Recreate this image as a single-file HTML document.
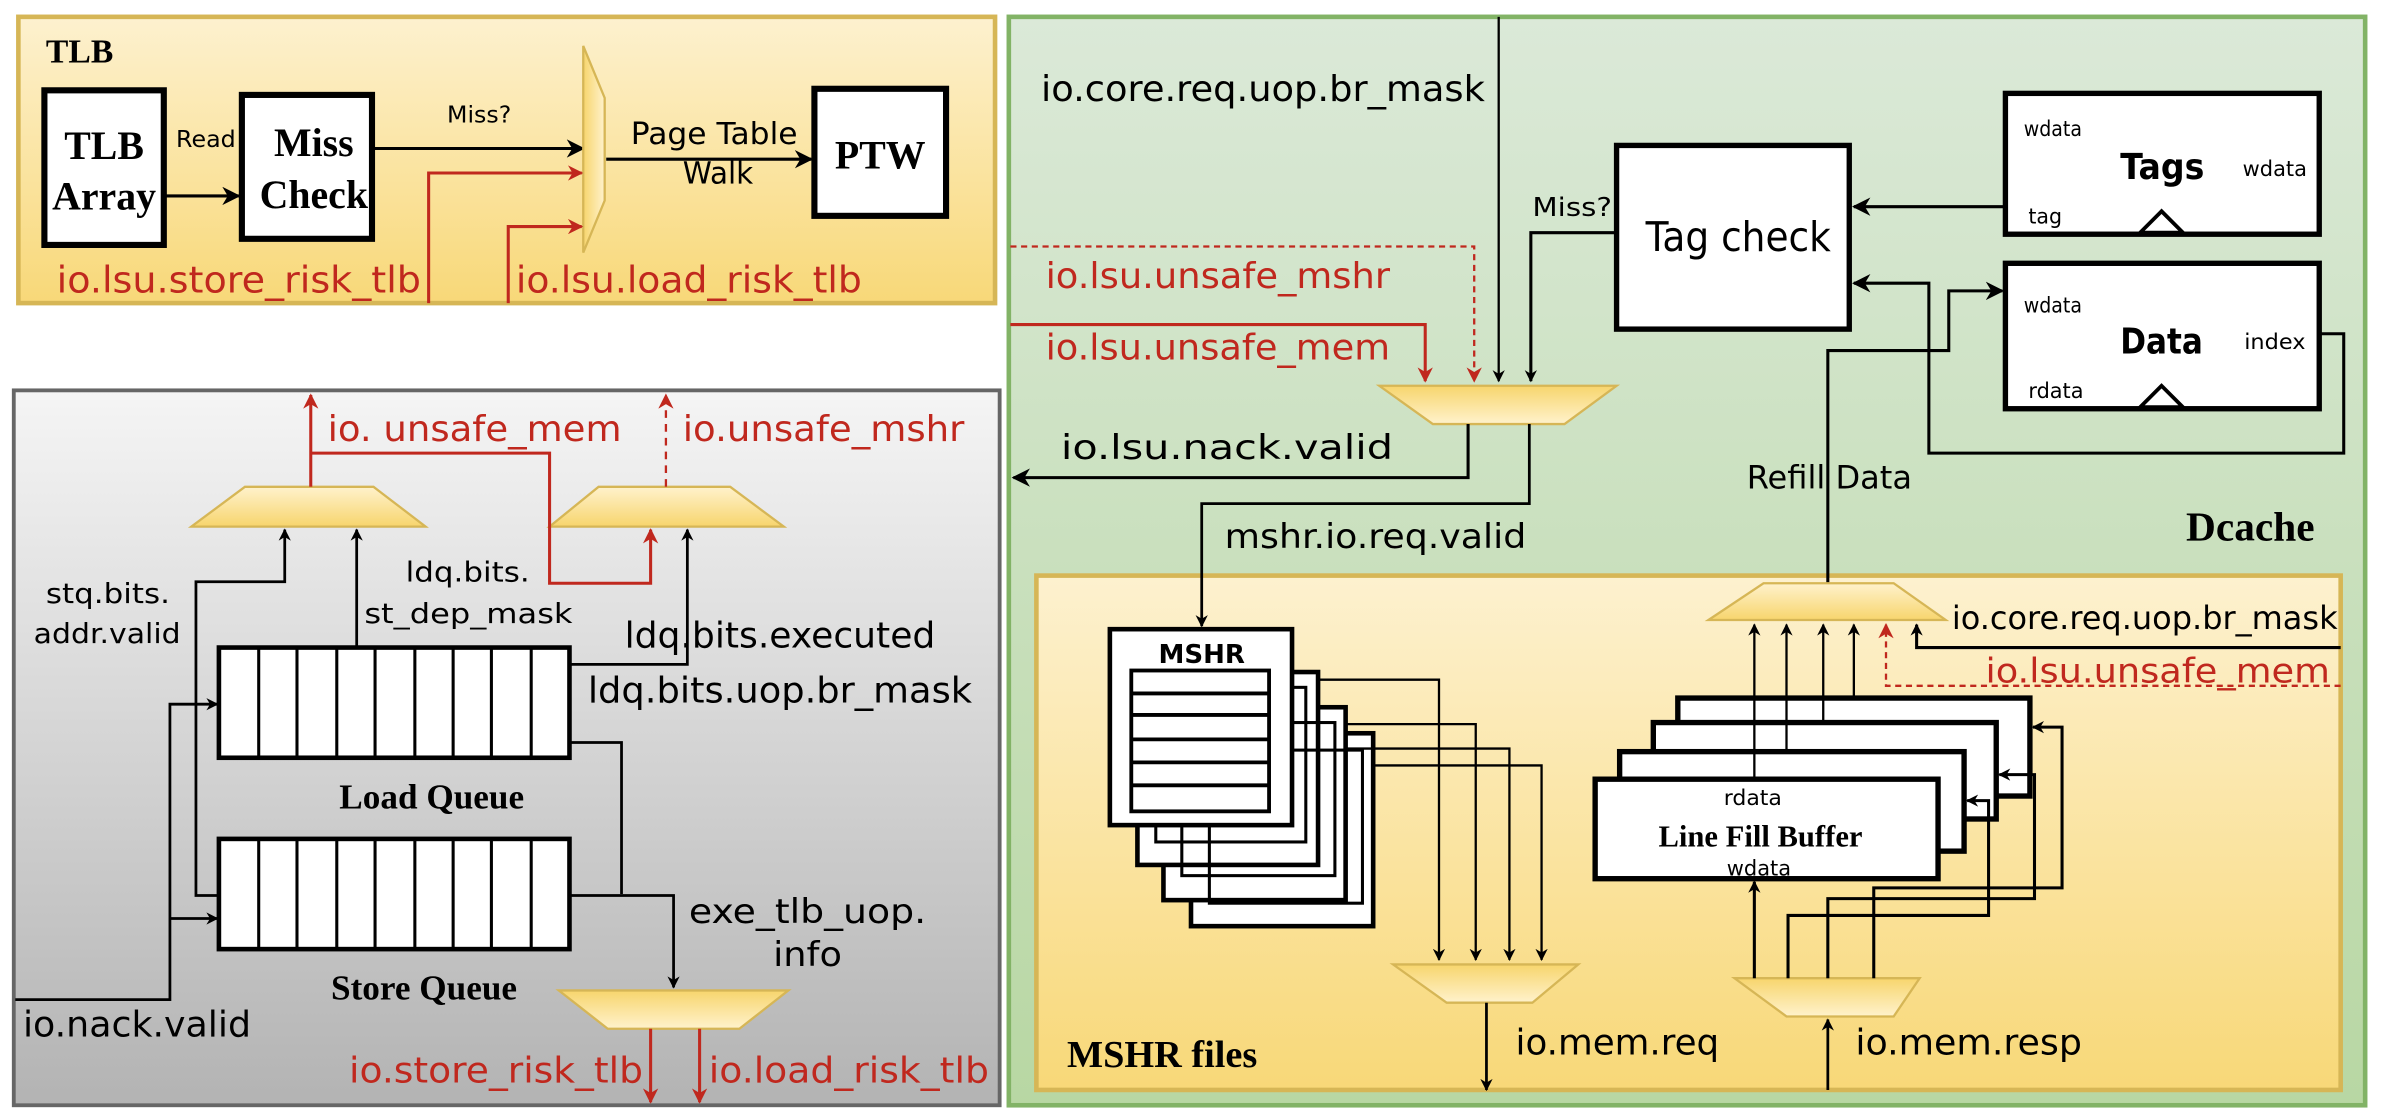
<!DOCTYPE html>
<html><head><meta charset="utf-8"><style>
html,body{margin:0;padding:0;background:#fff;}
svg{display:block}
text{font-family:"DejaVu Sans","Liberation Sans",sans-serif;}
.s{font-family:"Liberation Serif",serif;font-weight:bold;}
</style></head><body>
<svg width="2382" height="1112" viewBox="0 0 1556 726.4" preserveAspectRatio="none" xmlns="http://www.w3.org/2000/svg">
<defs>
<linearGradient id="gy" x1="0" y1="0" x2="0" y2="1"><stop offset="0" stop-color="#fdf1cf"/><stop offset="1" stop-color="#f8d878"/></linearGradient>
<linearGradient id="gg" x1="0" y1="0" x2="0" y2="1"><stop offset="0" stop-color="#dbe9d8"/><stop offset="1" stop-color="#b8d7a3"/></linearGradient>
<linearGradient id="ggr" x1="0" y1="0" x2="0" y2="1"><stop offset="0" stop-color="#f5f5f5"/><stop offset="1" stop-color="#b3b3b3"/></linearGradient>
<linearGradient id="mu" x1="0" y1="0" x2="0" y2="1"><stop offset="0" stop-color="#fff2cc"/><stop offset="1" stop-color="#f7d56d"/></linearGradient>
<linearGradient id="md" x1="0" y1="0" x2="0" y2="1"><stop offset="0" stop-color="#f7d56d"/><stop offset="1" stop-color="#fff2cc"/></linearGradient>
<linearGradient id="mh" x1="0" y1="0" x2="1" y2="0"><stop offset="0" stop-color="#f7d56d"/><stop offset="1" stop-color="#fff2cc"/></linearGradient>
<marker id="a" viewBox="0 0 10 10" refX="9" refY="5" markerWidth="8" markerHeight="8" markerUnits="userSpaceOnUse" orient="auto"><path d="M0,0 L10,5 L0,10 L3,5 z" fill="#000"/></marker>
<marker id="ab" viewBox="0 0 10 10" refX="9" refY="5" markerWidth="12" markerHeight="12" markerUnits="userSpaceOnUse" orient="auto"><path d="M0,0 L10,5 L0,10 L3,5 z" fill="#000"/></marker>
<marker id="r" viewBox="0 0 10 10" refX="9" refY="5" markerWidth="10" markerHeight="10" markerUnits="userSpaceOnUse" orient="auto"><path d="M0,0 L10,5 L0,10 L3,5 z" fill="#c0281e"/></marker>
</defs>

<!-- TLB -->
<rect x="12" y="11" width="638" height="187" fill="url(#gy)" stroke="#d6b656" stroke-width="3"/>
<text x="30" y="41" class="s" font-size="22">TLB</text>
<rect x="29" y="59" width="78" height="101" fill="#fff" stroke="#000" stroke-width="4"/>
<text x="68" y="104" class="s" font-size="26" text-anchor="middle">TLB</text>
<text x="68" y="137" class="s" font-size="26" text-anchor="middle">Array</text>
<rect x="158" y="62" width="85" height="94" fill="#fff" stroke="#000" stroke-width="4"/>
<text x="205" y="102" class="s" font-size="26" text-anchor="middle">Miss</text>
<text x="205" y="136" class="s" font-size="26" text-anchor="middle">Check</text>
<line x1="107" y1="128" x2="156" y2="128" stroke="#000" stroke-width="2" marker-end="url(#ab)"/>
<text x="115" y="96" font-size="15" textLength="39" lengthAdjust="spacingAndGlyphs">Read</text>
<line x1="243" y1="97" x2="381" y2="97" stroke="#000" stroke-width="2" marker-end="url(#ab)"/>
<text x="292" y="80" font-size="15" textLength="42" lengthAdjust="spacingAndGlyphs">Miss?</text>
<polygon points="381,30 395,64 395,131 381,165" fill="url(#mh)" stroke="#d6b656" stroke-width="1.5"/>
<line x1="396" y1="104" x2="530" y2="104" stroke="#000" stroke-width="2" marker-end="url(#ab)"/>
<text x="412" y="94" font-size="20" textLength="109" lengthAdjust="spacingAndGlyphs">Page Table</text>
<text x="446" y="120" font-size="20" textLength="46" lengthAdjust="spacingAndGlyphs">Walk</text>
<rect x="532" y="58" width="86" height="83" fill="#fff" stroke="#000" stroke-width="4"/>
<text x="575" y="110" class="s" font-size="26" text-anchor="middle">PTW</text>
<polyline points="280,198 280,113 380,113" fill="none" stroke="#c0281e" stroke-width="2" marker-end="url(#r)"/>
<polyline points="332,198 332,148 380,148" fill="none" stroke="#c0281e" stroke-width="2" marker-end="url(#r)"/>
<text x="37" y="191" font-size="24" fill="#c0281e" textLength="238" lengthAdjust="spacingAndGlyphs">io.lsu.store_risk_tlb</text>
<text x="337" y="191" font-size="24" fill="#c0281e" textLength="226" lengthAdjust="spacingAndGlyphs">io.lsu.load_risk_tlb</text>

<!-- LSU gray -->
<rect x="9" y="255" width="644" height="467" fill="url(#ggr)" stroke="#666" stroke-width="2.5"/>
<polygon points="160,318 244,318 278,344 125,344" fill="url(#mu)" stroke="#d6b656" stroke-width="1.5"/>
<polygon points="391,318 477,318 512,344 359,344" fill="url(#mu)" stroke="#d6b656" stroke-width="1.5"/>
<line x1="203" y1="318" x2="203" y2="258" stroke="#c0281e" stroke-width="2" marker-end="url(#r)"/>
<line x1="435" y1="318" x2="435" y2="258" stroke="#c0281e" stroke-width="1.5" stroke-dasharray="5,4" marker-end="url(#r)"/>
<text x="214" y="288" font-size="23" fill="#c0281e" textLength="192" lengthAdjust="spacingAndGlyphs">io. unsafe_mem</text>
<text x="446" y="288" font-size="23" fill="#c0281e" textLength="184" lengthAdjust="spacingAndGlyphs">io.unsafe_mshr</text>
<polyline points="203,296 359,296 359,381 425,381 425,346" fill="none" stroke="#c0281e" stroke-width="2" marker-end="url(#r)"/>
<polyline points="143,585 128,585 128,380 186,380 186,346" fill="none" stroke="#000" stroke-width="1.8" marker-end="url(#a)"/>
<line x1="233" y1="423" x2="233" y2="346" stroke="#000" stroke-width="1.8" marker-end="url(#a)"/>
<polyline points="372,434 449,434 449,346" fill="none" stroke="#000" stroke-width="1.8" marker-end="url(#a)"/>
<polyline points="372,485 406,485 406,584" fill="none" stroke="#000" stroke-width="1.8"/>
<polyline points="372,585 440,585 440,645" fill="none" stroke="#000" stroke-width="1.8" marker-end="url(#a)"/>
<polyline points="10,653 111,653 111,460 142,460" fill="none" stroke="#000" stroke-width="1.8" marker-end="url(#a)"/>
<line x1="111" y1="600" x2="142" y2="600" stroke="#000" stroke-width="1.8" marker-end="url(#a)"/>
<g fill="#fff" stroke="#000" stroke-width="3">
<rect x="143" y="423" width="229" height="72"/>
<rect x="143" y="548" width="229" height="72"/>
</g>
<g stroke="#000" stroke-width="2">
<path d="M169,423v72M194,423v72M220,423v72M245,423v72M271,423v72M296,423v72M321,423v72M347,423v72"/>
<path d="M169,548v72M194,548v72M220,548v72M245,548v72M271,548v72M296,548v72M321,548v72M347,548v72"/>
</g>
<text x="282" y="528" class="s" font-size="23" text-anchor="middle">Load Queue</text>
<text x="277" y="653" class="s" font-size="23" text-anchor="middle">Store Queue</text>
<text x="30" y="394" font-size="18" textLength="81" lengthAdjust="spacingAndGlyphs">stq.bits.</text>
<text x="22" y="420" font-size="18" textLength="96" lengthAdjust="spacingAndGlyphs">addr.valid</text>
<text x="265" y="380" font-size="18" textLength="81" lengthAdjust="spacingAndGlyphs">ldq.bits.</text>
<text x="238" y="407" font-size="18" textLength="136" lengthAdjust="spacingAndGlyphs">st_dep_mask</text>
<text x="408" y="423" font-size="23" textLength="203" lengthAdjust="spacingAndGlyphs">ldq.bits.executed</text>
<text x="384" y="459" font-size="23" textLength="251" lengthAdjust="spacingAndGlyphs">ldq.bits.uop.br_mask</text>
<text x="450" y="603" font-size="22" textLength="155" lengthAdjust="spacingAndGlyphs">exe_tlb_uop.</text>
<text x="505" y="631" font-size="22" textLength="45" lengthAdjust="spacingAndGlyphs">info</text>
<text x="15" y="677" font-size="23" textLength="149" lengthAdjust="spacingAndGlyphs">io.nack.valid</text>
<polygon points="365,647 515,647 483,672 397,672" fill="url(#md)" stroke="#d6b656" stroke-width="1.5"/>
<line x1="425" y1="672" x2="425" y2="720" stroke="#c0281e" stroke-width="2" marker-end="url(#r)"/>
<line x1="457" y1="672" x2="457" y2="720" stroke="#c0281e" stroke-width="2" marker-end="url(#r)"/>
<text x="228" y="707" font-size="23" fill="#c0281e" textLength="192" lengthAdjust="spacingAndGlyphs">io.store_risk_tlb</text>
<text x="463" y="707" font-size="23" fill="#c0281e" textLength="183" lengthAdjust="spacingAndGlyphs">io.load_risk_tlb</text>

<!-- Dcache -->
<rect x="659" y="11" width="886" height="711" fill="url(#gg)" stroke="#82b366" stroke-width="3"/>
<text x="680" y="66" font-size="23" textLength="290" lengthAdjust="spacingAndGlyphs">io.core.req.uop.br_mask</text>
<line x1="979" y1="11" x2="979" y2="249" stroke="#000" stroke-width="1.5" marker-end="url(#a)"/>
<polyline points="1055,152 1000,152 1000,249" fill="none" stroke="#000" stroke-width="2" marker-end="url(#a)"/>
<text x="1001" y="141" font-size="17" textLength="52" lengthAdjust="spacingAndGlyphs">Miss?</text>
<polyline points="660,161 963,161 963,249" fill="none" stroke="#c0281e" stroke-width="1.5" stroke-dasharray="4,3" marker-end="url(#r)"/>
<polyline points="660,212 931,212 931,249" fill="none" stroke="#c0281e" stroke-width="2" marker-end="url(#r)"/>
<text x="683" y="188" font-size="23" fill="#c0281e" textLength="225" lengthAdjust="spacingAndGlyphs">io.lsu.unsafe_mshr</text>
<text x="683" y="235" font-size="23" fill="#c0281e" textLength="225" lengthAdjust="spacingAndGlyphs">io.lsu.unsafe_mem</text>
<polygon points="901,252 1056,252 1022,277 936,277" fill="url(#md)" stroke="#d6b656" stroke-width="1.5"/>
<polyline points="959,277 959,312 662,312" fill="none" stroke="#000" stroke-width="2" marker-end="url(#ab)"/>
<text x="693" y="300" font-size="22" textLength="217" lengthAdjust="spacingAndGlyphs">io.lsu.nack.valid</text>
<text x="800" y="358" font-size="22" textLength="197" lengthAdjust="spacingAndGlyphs">mshr.io.req.valid</text>
<rect x="1056" y="95" width="152" height="120" fill="#fff" stroke="#000" stroke-width="3.5"/>
<text x="1075" y="164" font-size="27" textLength="121" lengthAdjust="spacingAndGlyphs">Tag check</text>
<rect x="1310" y="61" width="205" height="92" fill="#fff" stroke="#000" stroke-width="3.5"/>
<text x="1322" y="89" font-size="14" textLength="38" lengthAdjust="spacingAndGlyphs">wdata</text>
<text x="1385" y="117" font-size="23" font-weight="bold" textLength="55" lengthAdjust="spacingAndGlyphs">Tags</text>
<text x="1465" y="115" font-size="14" textLength="42" lengthAdjust="spacingAndGlyphs">wdata</text>
<text x="1325" y="146" font-size="14" textLength="22" lengthAdjust="spacingAndGlyphs">tag</text>
<polygon points="1398,152 1412,138 1426,152" fill="#fff" stroke="#000" stroke-width="2.5"/>
<line x1="1309" y1="135" x2="1211" y2="135" stroke="#000" stroke-width="2" marker-end="url(#ab)"/>
<rect x="1310" y="172" width="205" height="95" fill="#fff" stroke="#000" stroke-width="3.5"/>
<text x="1322" y="204" font-size="14" textLength="38" lengthAdjust="spacingAndGlyphs">wdata</text>
<text x="1385" y="231" font-size="23" font-weight="bold" textLength="54" lengthAdjust="spacingAndGlyphs">Data</text>
<text x="1466" y="228" font-size="14" textLength="40" lengthAdjust="spacingAndGlyphs">index</text>
<text x="1325" y="260" font-size="14" textLength="36" lengthAdjust="spacingAndGlyphs">rdata</text>
<polygon points="1398,266 1412,252 1426,266" fill="#fff" stroke="#000" stroke-width="2.5"/>
<polyline points="1515,218 1531,218 1531,296 1260,296 1260,185 1211,185" fill="none" stroke="#000" stroke-width="2" marker-end="url(#ab)"/>
<text x="1141" y="319" font-size="21" textLength="108" lengthAdjust="spacingAndGlyphs">Refill Data</text>
<text x="1428" y="353" class="s" font-size="27">Dcache</text>

<!-- MSHR files -->
<rect x="677" y="376" width="852" height="336" fill="url(#gy)" stroke="#d6b656" stroke-width="3"/>
<polyline points="999,277 999,329 785,329 785,409" fill="none" stroke="#000" stroke-width="1.8" marker-end="url(#a)"/>
<polyline points="1194,381 1194,229 1273,229 1273,190 1308,190" fill="none" stroke="#000" stroke-width="2" marker-end="url(#ab)"/>
<text x="697" y="697" class="s" font-size="25">MSHR files</text>
<g fill="#fff" stroke="#000" stroke-width="3">
<rect x="778" y="479" width="119" height="126"/><rect x="760" y="462" width="119" height="126"/><rect x="743" y="439" width="118" height="126"/>
</g>
<g fill="none" stroke="#000" stroke-width="2">
<rect x="790" y="490" width="100" height="100"/><rect x="772" y="472" width="100" height="100"/><rect x="755" y="449" width="98" height="101"/>
</g>
<rect x="725" y="411" width="119" height="128" fill="#fff" stroke="#000" stroke-width="3"/>
<text x="785" y="433" font-size="17" font-weight="bold" text-anchor="middle">MSHR</text>
<rect x="739" y="438" width="90" height="92" fill="#fff" stroke="#000" stroke-width="2.5"/>
<g stroke="#000" stroke-width="2.5"><path d="M739,453h90M739,467h90M739,483h90M739,498h90M739,513h90"/></g>
<polyline points="861,444 940,444 940,627" fill="none" stroke="#000" stroke-width="1.5" marker-end="url(#a)"/>
<polyline points="879,473 964,473 964,627" fill="none" stroke="#000" stroke-width="1.5" marker-end="url(#a)"/>
<polyline points="879,489 986,489 986,627" fill="none" stroke="#000" stroke-width="1.5" marker-end="url(#a)"/>
<polyline points="897,500 1007,500 1007,627" fill="none" stroke="#000" stroke-width="1.5" marker-end="url(#a)"/>
<polygon points="910,630 1031,630 1001,655 945,655" fill="url(#md)" stroke="#d6b656" stroke-width="1.5"/>
<line x1="971" y1="655" x2="971" y2="712" stroke="#000" stroke-width="1.8" marker-end="url(#a)"/>
<text x="990" y="689" font-size="23" textLength="133" lengthAdjust="spacingAndGlyphs">io.mem.req</text>

<!-- LFB -->
<g fill="#fff" stroke="#000" stroke-width="3.5">
<rect x="1096" y="456" width="230" height="64"/><rect x="1080" y="472" width="224" height="63"/><rect x="1058" y="491" width="225" height="65"/><rect x="1042" y="509" width="224" height="65"/>
</g>
<text x="1150" y="553" class="s" font-size="20" text-anchor="middle">Line Fill Buffer</text>
<text x="1145" y="526" font-size="14" text-anchor="middle" textLength="38" lengthAdjust="spacingAndGlyphs">rdata</text>
<text x="1149" y="572" font-size="14" text-anchor="middle" textLength="42" lengthAdjust="spacingAndGlyphs">wdata</text>
<g stroke="#000" stroke-width="1.5" fill="none">
<line x1="1146" y1="509" x2="1146" y2="408" marker-end="url(#a)"/>
<line x1="1167" y1="491" x2="1167" y2="408" marker-end="url(#a)"/>
<line x1="1191" y1="472" x2="1191" y2="408" marker-end="url(#a)"/>
<line x1="1211" y1="456" x2="1211" y2="408" marker-end="url(#a)"/>
<polyline points="1529,423 1252,423 1252,408" stroke-width="2" marker-end="url(#a)"/>
</g>
<polyline points="1529,448 1232,448 1232,408" fill="none" stroke="#c0281e" stroke-width="1.5" stroke-dasharray="4,3" marker-end="url(#r)"/>
<polygon points="1152,381 1237,381 1271,405 1116,405" fill="url(#mu)" stroke="#d6b656" stroke-width="1.5"/>
<text x="1275" y="411" font-size="21" textLength="252" lengthAdjust="spacingAndGlyphs">io.core.req.uop.br_mask</text>
<text x="1297" y="446" font-size="22" fill="#c0281e" textLength="225" lengthAdjust="spacingAndGlyphs">io.lsu.unsafe_mem</text>
<polygon points="1133,639 1254,639 1237,664 1167,664" fill="url(#md)" stroke="#d6b656" stroke-width="1.5"/>
<line x1="1194" y1="712" x2="1194" y2="666" stroke="#000" stroke-width="1.8" marker-end="url(#a)"/>
<text x="1212" y="689" font-size="23" textLength="148" lengthAdjust="spacingAndGlyphs">io.mem.resp</text>
<g stroke="#000" stroke-width="2" fill="none">
<line x1="1146" y1="639" x2="1146" y2="576" marker-end="url(#a)"/>
<polyline points="1168,639 1168,598 1299,598 1299,523 1285,523" marker-end="url(#a)"/>
<polyline points="1194,639 1194,587 1329,587 1329,506 1306,506" marker-end="url(#a)"/>
<polyline points="1224,639 1224,580 1347,580 1347,475 1328,475" marker-end="url(#a)"/>
</g>
</svg>
</body></html>
